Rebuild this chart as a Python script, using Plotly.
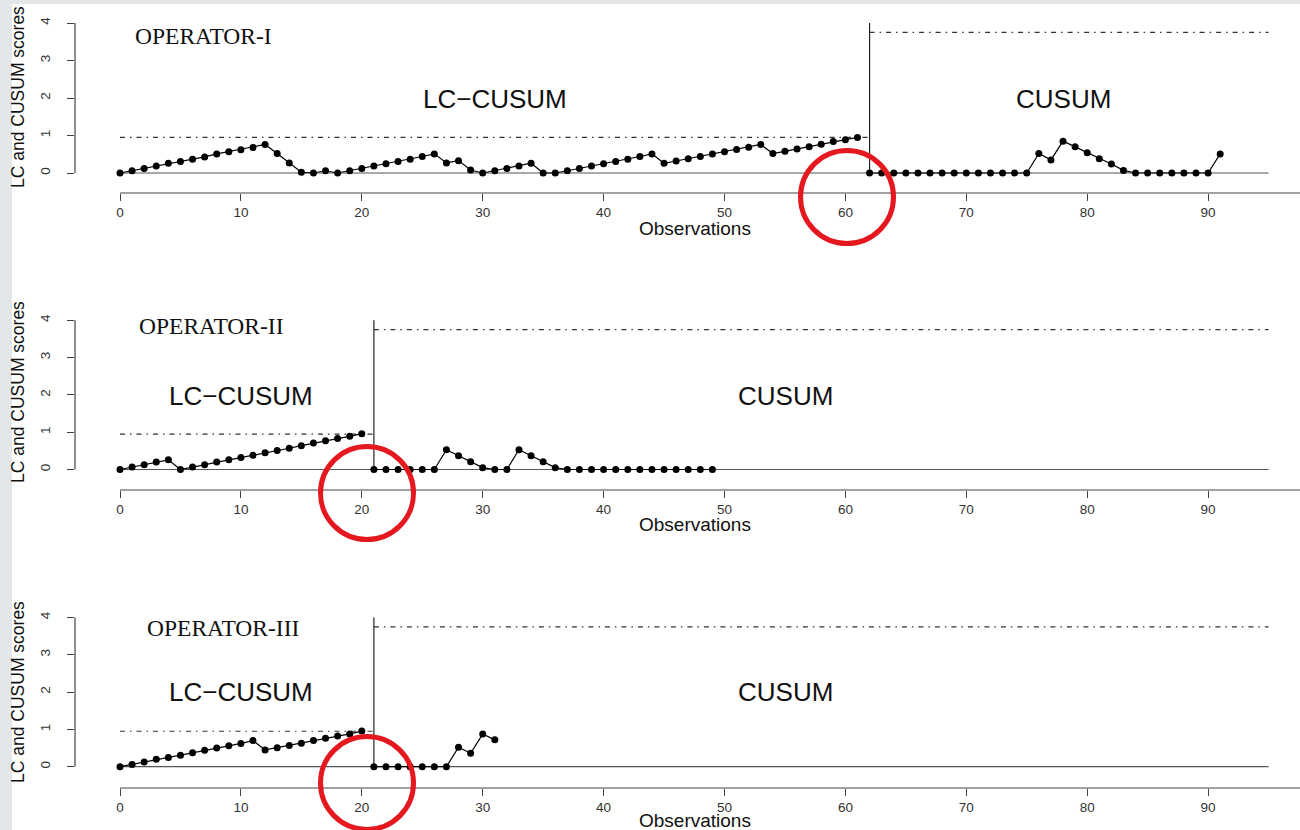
import plotly.graph_objects as go

W, H = 1300, 830

# ---------------- data ----------------
x_ticks = [0, 10, 20, 30, 40, 50, 60, 70, 80, 90]
y_ticks = [0, 1, 2, 3, 4]
operators = ["OPERATOR-I", "OPERATOR-II", "OPERATOR-III"]

lc_limit = 0.95
cusum_limit = 3.75
x_end = 95

op1_change = 62
op1_lc = [0, 0.06, 0.12, 0.19, 0.26, 0.31, 0.37, 0.43, 0.51, 0.57, 0.62, 0.68, 0.76,
          0.52, 0.27, 0.02, 0.0, 0.06, 0.0, 0.06, 0.12, 0.19, 0.25, 0.31, 0.37, 0.44,
          0.51, 0.27, 0.33, 0.08, 0.0, 0.06, 0.12, 0.19, 0.26, 0.0, 0.0, 0.06, 0.12,
          0.19, 0.25, 0.31, 0.37, 0.44, 0.51, 0.26, 0.32, 0.38, 0.44, 0.51, 0.57, 0.63,
          0.69, 0.76, 0.52, 0.58, 0.64, 0.70, 0.77, 0.84, 0.89, 0.95]
op1_cusum = [0, 0, 0, 0, 0, 0, 0, 0, 0, 0, 0, 0, 0, 0,
             0.52, 0.35, 0.85, 0.70, 0.54, 0.38, 0.24, 0.07,
             0, 0, 0, 0, 0, 0, 0, 0.51]

op2_change = 21
op2_lc = [0, 0.07, 0.13, 0.20, 0.26, 0, 0.07, 0.13, 0.20, 0.26, 0.32, 0.38, 0.45,
          0.51, 0.57, 0.64, 0.71, 0.77, 0.83, 0.89, 0.96]
op2_cusum = [0, 0, 0, 0, 0, 0, 0.53, 0.37, 0.21, 0.05, 0, 0, 0.53, 0.37, 0.21, 0.05,
             0, 0, 0, 0, 0, 0, 0, 0, 0, 0, 0, 0, 0]

op3_change = 21
op3_lc = [0, 0.06, 0.125, 0.20, 0.25, 0.31, 0.375, 0.44, 0.50, 0.56, 0.625, 0.70,
          0.45, 0.51, 0.57, 0.63, 0.70, 0.76, 0.82, 0.88, 0.955]
op3_cusum = [0, 0, 0, 0, 0, 0, 0, 0.52, 0.36, 0.875, 0.72]

panels = [
    (op1_lc, op1_cusum, op1_change),
    (op2_lc, op2_cusum, op2_change),
    (op3_lc, op3_cusum, op3_change),
]

# ---------------- layout geometry (pixels) ----------------
px_per_x = 12.09
x0_px = 120
left_px = 75
x_range = [(left_px - x0_px) / px_per_x, (W - x0_px) / px_per_x]

# (y of zero, px per unit, bottom axis pixel, top of domain pixel)
panel_geo = [(173.0, 37.5, 193, 5), (469.5, 37.3, 490, 300), (766.7, 37.3, 788, 598)]
title_pos = [(133, 36), (137, 326), (145, 628)]
big_label_y = [99, 396, 692]
lc_label_x = [495, 241, 241]
cusum_label_x = [1063, 785, 785]
obs_y = [228, 524, 820]
ytitle_y = [97, 392, 692]
circles = [(847, 197), (367, 493), (367, 783)]


def xp(px):
    return px / W


def yp(py):
    return 1 - py / H


SANS = "Liberation Sans, Arial, sans-serif"
SERIF = "Liberation Serif, Times New Roman, serif"
DASHDOT = "5px,5px,1.5px,5px"

fig = go.Figure()
layout = dict(
    width=W, height=H,
    margin=dict(l=0, r=0, t=0, b=0),
    paper_bgcolor="white", plot_bgcolor="rgba(0,0,0,0)",
    showlegend=False,
)
shapes = []
annotations = []

for i, (lc, cu, chg) in enumerate(panels):
    sfx = "" if i == 0 else str(i + 1)
    xa, ya = "x" + sfx, "y" + sfx
    y0, s, bot, top = panel_geo[i]
    y_range = [-(bot - y0) / s, (y0 - top) / s]

    layout["xaxis" + sfx] = dict(
        domain=[xp(left_px), 1], anchor=ya, range=x_range,
        tickvals=x_ticks, ticks="outside", ticklen=7, tickwidth=1, tickcolor="#444",
        showline=False, showgrid=False, zeroline=False,
        tickfont=dict(family=SANS, size=13.5, color="#333"),
    )
    layout["yaxis" + sfx] = dict(
        domain=[yp(bot), yp(top)], anchor=xa, range=y_range,
        tickvals=y_ticks, ticks="outside", ticklen=7, tickwidth=1, tickcolor="#444",
        tickangle=-90, showline=False, showgrid=False, zeroline=False,
        ticklabelstandoff=12,
        tickfont=dict(family=SANS, size=13.5, color="#333"),
    )

    line_kw = dict(xaxis=xa, yaxis=ya, hoverinfo="skip")
    # baseline
    fig.add_trace(go.Scatter(x=[0, x_end], y=[0, 0], mode="lines",
                             line=dict(color="#555", width=1.2), **line_kw))
    # control limits
    fig.add_trace(go.Scatter(x=[0, chg], y=[lc_limit, lc_limit], mode="lines",
                             line=dict(color="#333", width=1.2, dash=DASHDOT), **line_kw))
    fig.add_trace(go.Scatter(x=[chg, x_end], y=[cusum_limit, cusum_limit], mode="lines",
                             line=dict(color="#333", width=1.2, dash=DASHDOT), **line_kw))
    # switch line
    fig.add_trace(go.Scatter(x=[chg, chg], y=[0, 4], mode="lines",
                             line=dict(color="#222", width=1.2), **line_kw))
    # LC-CUSUM scores
    fig.add_trace(go.Scatter(x=list(range(len(lc))), y=lc, mode="lines+markers",
                             line=dict(color="black", width=1.2),
                             marker=dict(color="black", size=7), **line_kw))
    # CUSUM scores
    fig.add_trace(go.Scatter(x=list(range(chg, chg + len(cu))), y=cu, mode="lines+markers",
                             line=dict(color="black", width=1.2),
                             marker=dict(color="black", size=7), **line_kw))

    # axis lines
    shapes.append(dict(type="line", xref=xa, yref=ya + " domain", x0=0, x1=x_range[1],
                       y0=0, y1=0, line=dict(color="#444", width=1.2)))
    shapes.append(dict(type="line", xref=xa + " domain", yref=ya, x0=0, x1=0,
                       y0=0, y1=4, line=dict(color="#444", width=1.2)))

    # texts
    tx, ty = title_pos[i]
    annotations.append(dict(x=xp(tx), y=yp(ty), xref="paper", yref="paper",
                            xanchor="left", yanchor="middle", showarrow=False,
                            text=operators[i], font=dict(family=SERIF, size=23.5, color="#111")))
    annotations.append(dict(x=xp(lc_label_x[i]), y=yp(big_label_y[i]), xref="paper", yref="paper",
                            xanchor="center", yanchor="middle", showarrow=False,
                            text="LC\u2212CUSUM", font=dict(family=SANS, size=26, color="#111")))
    annotations.append(dict(x=xp(cusum_label_x[i]), y=yp(big_label_y[i]), xref="paper", yref="paper",
                            xanchor="center", yanchor="middle", showarrow=False,
                            text="CUSUM", font=dict(family=SANS, size=26, color="#111")))
    annotations.append(dict(x=xp(695), y=yp(obs_y[i]), xref="paper", yref="paper",
                            xanchor="center", yanchor="middle", showarrow=False,
                            text="Observations", font=dict(family=SANS, size=19, color="#111")))
    annotations.append(dict(x=xp(18), y=yp(ytitle_y[i]), xref="paper", yref="paper",
                            xanchor="center", yanchor="middle", showarrow=False, textangle=-90,
                            text="LC and CUSUM scores", font=dict(family=SANS, size=17.5, color="#111")))

    # red highlight circles
    cx, cy = circles[i]
    r = 46.5
    shapes.append(dict(type="circle", xref="paper", yref="paper",
                       x0=xp(cx - r), x1=xp(cx + r), y0=yp(cy + r), y1=yp(cy - r),
                       line=dict(color="#e5171f", width=5)))

# grey page border strips
shapes.append(dict(type="rect", xref="paper", yref="paper", x0=0, x1=xp(12), y0=0, y1=1,
                   fillcolor="#e4e7ea", line=dict(width=0), layer="below"))
shapes.append(dict(type="rect", xref="paper", yref="paper", x0=0, x1=1, y0=yp(4), y1=1,
                   fillcolor="#e4e7ea", line=dict(width=0), layer="below"))

layout["shapes"] = shapes
layout["annotations"] = annotations
fig.update_layout(**layout)

fig.write_html("out.html", config={"displayModeBar": False},
               post_script="document.body.style.margin='0';document.body.style.overflow='hidden';")
